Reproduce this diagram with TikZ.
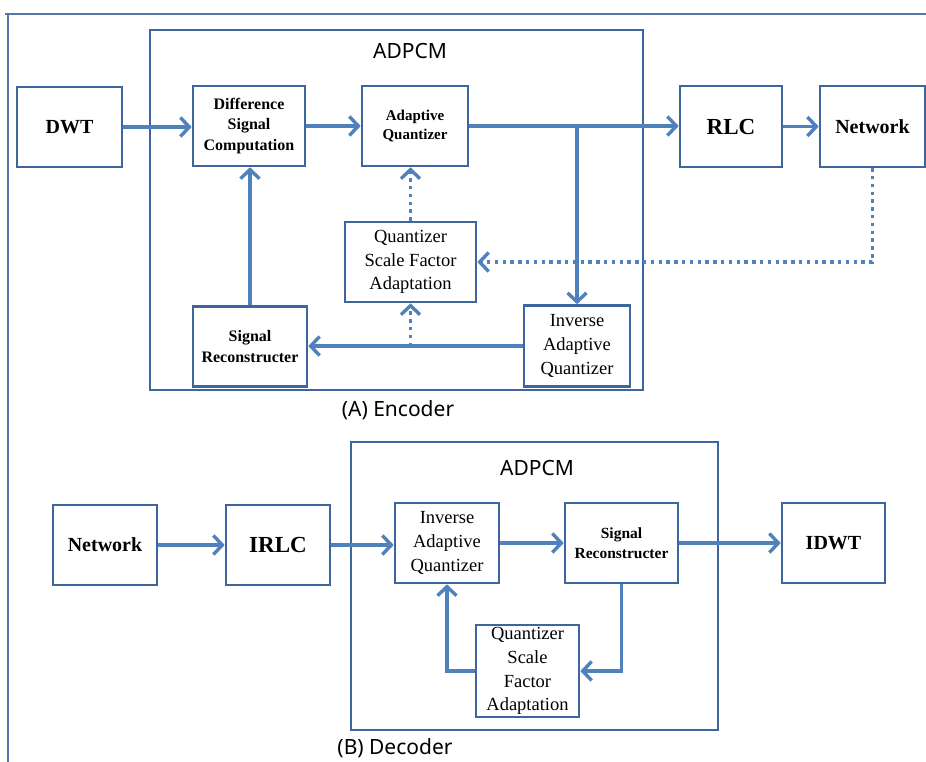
\documentclass[tikz,border=0pt]{standalone}
\usepackage{fontspec}
\setmainfont{Liberation Serif}
\newfontfamily\capfont{Noto Sans}
\usetikzlibrary{arrows.meta}
\definecolor{linkblue}{HTML}{4F81BD}
\definecolor{edgeblue}{HTML}{3E669E}
\definecolor{framegray}{HTML}{5577AE}
\begin{document}
\begin{tikzpicture}[x=1pt,y=-1pt,
  blk/.style={draw=edgeblue, line width=2.6pt, fill=white, align=center, inner sep=0pt},
  group/.style={draw=edgeblue, line width=2.4pt, inner sep=0pt},
  bigbold/.style={font=\fontsize{23}{27}\selectfont\bfseries},
  midbold/.style={font=\fontsize{20}{24}\selectfont\bfseries},
  smallbold/.style={font=\fontsize{16}{20.5}\selectfont\bfseries},
  plain/.style={font=\fontsize{18.5}{23.8}\selectfont},
  caption/.style={font=\capfont\fontsize{21}{25}\selectfont, inner sep=0pt},
  link/.style={draw=linkblue, line width=3.4pt,
    -{Straight Barb[length=9pt,width=19pt,line width=3.4pt]}},
  dotlink/.style={link, dash pattern=on 3.4pt off 4.4pt}
]
\useasboundingbox (0,0) rectangle (926,762);

% outer frame
\draw[framegray, line width=1.6pt] (5,14) -- (926,14);
\draw[framegray, line width=1.6pt] (8,14) -- (8,762);

% ---------------- encoder ----------------
\node[group, minimum width=493pt, minimum height=360pt] (encbox) at (396.5,210) {};
\node[caption] (enctitle) at (410,51) {ADPCM};
\node[caption] (enccap) at (398,410) {(A) Encoder};

\node[blk, midbold, minimum width=105pt, minimum height=80pt] (dwt) at (69.5,127) {DWT};
\node[blk, smallbold, minimum width=112pt, minimum height=80pt] (dsc) at (249,126) {Difference\\Signal\\Computation};
\node[blk, font=\fontsize{15}{19.5}\selectfont\bfseries, minimum width=106pt, minimum height=80pt] (aq) at (415,126) {Adaptive\\Quantizer};
\node[blk, bigbold, minimum width=102pt, minimum height=81pt] (rlc) at (731,126.5) {RLC};
\node[blk, midbold, minimum width=105pt, minimum height=81pt] (net) at (872.5,126.5) {Network};
\node[blk, plain, minimum width=131pt, minimum height=80pt] (qsfa) at (410.5,262) {Quantizer\\Scale Factor\\Adaptation};
\node[blk, smallbold, minimum width=114pt, minimum height=80pt] (sr) at (250,346.5) {Signal\\Reconstructer};
\node[blk, plain, minimum width=106pt, minimum height=81pt] (iaq) at (577,346) {Inverse\\Adaptive\\Quantizer};

\coordinate (branch) at (577,126);
\coordinate (tap) at (qsfa.south |- iaq.west);

\draw[link] (dwt.east) -- (dwt.east -| dsc.west);
\draw[link] (dsc.east) -- (aq.west);
\draw[link] (aq.east) -- (aq.east -| rlc.west);
\draw[link] (branch) -- (iaq.north);
\draw[link] (rlc.east) -- (net.west);
\draw[dotlink] (net.south) |- (qsfa.east);
\draw[dotlink] (qsfa.north) -- (qsfa.north |- aq.south);
\draw[link] (iaq.west) -- (iaq.west -| sr.east);
\draw[dotlink] (tap) -- (qsfa.south);
\draw[link] (sr.north) -- (sr.north |- dsc.south);

% ---------------- decoder ----------------
\node[group, minimum width=367pt, minimum height=288pt] (decbox) at (534.5,586) {};
\node[caption] (dectitle) at (537,468) {ADPCM};
\node[caption] (deccap) at (395,748) {(B) Decoder};

\node[blk, midbold, minimum width=104pt, minimum height=80pt] (net2) at (105,545) {Network};
\node[blk, bigbold, minimum width=104pt, minimum height=80pt] (irlc) at (278,545) {IRLC};
\node[blk, plain, minimum width=104pt, minimum height=80pt] (iaq2) at (447,543) {Inverse\\Adaptive\\Quantizer};
\node[blk, font=\fontsize{15.5}{20.5}\selectfont\bfseries, minimum width=113pt, minimum height=80pt] (sr2) at (621.5,543) {Signal\\Reconstructer};
\node[blk, midbold, minimum width=103pt, minimum height=80pt] (idwt) at (833.5,543) {IDWT};
\node[blk, plain, minimum width=103pt, minimum height=92pt] (qsfa2) at (527.5,671) {Quantizer\\Scale\\Factor\\Adaptation};

\draw[link] (net2.east) -- (irlc.west);
\draw[link] (irlc.east) -- (irlc.east -| iaq2.west);
\draw[link] (iaq2.east) -- (sr2.west);
\draw[link] (sr2.east) -- (idwt.west);
\draw[link] (sr2.south) |- (qsfa2.east);
\draw[link] (qsfa2.west) -| (iaq2.south);
\end{tikzpicture}
\end{document}
